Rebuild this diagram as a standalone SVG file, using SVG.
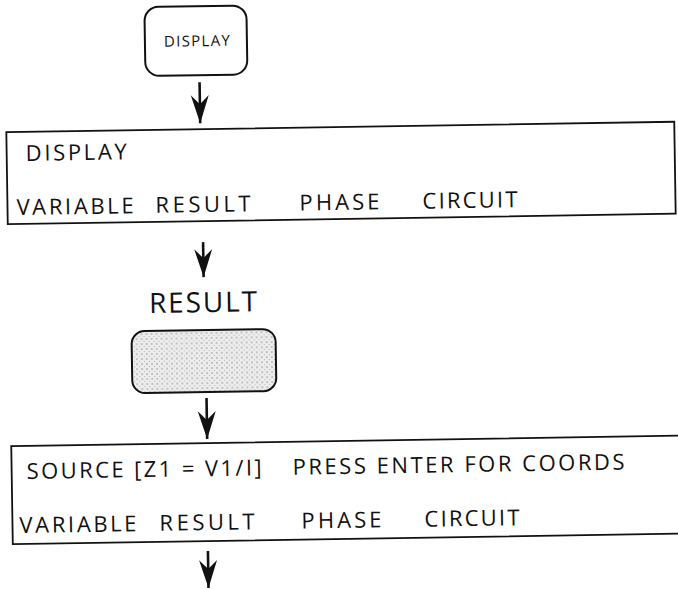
<svg xmlns="http://www.w3.org/2000/svg" width="678" height="589" viewBox="0 0 678 589">
<defs>
<marker id="ah" viewBox="0 -11 30 22" refX="28" refY="0" markerWidth="30" markerHeight="22" markerUnits="userSpaceOnUse" orient="auto">
<path d="M28,0 L0,-9 L9,0 L0,9 Z" fill="#111"/>
</marker>
<pattern id="stip" width="5" height="5" patternUnits="userSpaceOnUse">
<rect width="5" height="5" fill="#ededed"/>
<circle cx="1" cy="1" r="0.7" fill="#777"/>
<circle cx="3.5" cy="3.5" r="0.5" fill="#999"/>
</pattern>
<style>
.box{fill:#fff;stroke:#111;stroke-width:1.8}
.rnd{fill:#fff;stroke:#111;stroke-width:2}
.t{font-family:"Open Sans","Liberation Sans",sans-serif;fill:#111}
.conn line{stroke:#111;stroke-width:2.6;marker-end:url(#ah)}
</style>
</defs>
<rect width="678" height="589" fill="#fff"/>
<g transform="rotate(-0.9 339 300)">
<g id="key-display">
<rect class="rnd" x="149" y="4" width="102" height="69" rx="14"/>
<text class="t" x="201" y="44" font-size="15" text-anchor="middle" textLength="66" lengthAdjust="spacing">DISPLAY</text>
</g>
<g id="screen-display">
<rect class="box" x="9" y="127" width="668" height="92"/>
<text class="t" x="28" y="156" font-size="22" textLength="101" lengthAdjust="spacing">DISPLAY</text>
<text class="t" y="210" font-size="22"><tspan x="18" textLength="117" lengthAdjust="spacing">VARIABLE</tspan> <tspan x="157" textLength="95" lengthAdjust="spacing">RESULT</tspan> <tspan x="301" textLength="80" lengthAdjust="spacing">PHASE</tspan> <tspan x="424" textLength="95" lengthAdjust="spacing">CIRCUIT</tspan></text>
</g>
<g id="key-result">
<text class="t" x="203" y="310" font-size="28" text-anchor="middle" textLength="108" lengthAdjust="spacing">RESULT</text>
<rect x="131" y="328" width="144" height="62" rx="13" fill="url(#stip)" stroke="#111" stroke-width="2"/>
</g>
<g id="screen-result">
<rect class="box" x="9" y="441" width="690" height="98"/>
<text class="t" y="474" font-size="22"><tspan x="24" textLength="235" lengthAdjust="spacing">SOURCE [Z1 = V1/I]</tspan> <tspan x="290" textLength="332" lengthAdjust="spacing">PRESS ENTER FOR COORDS</tspan></text>
<text class="t" y="528" font-size="22"><tspan x="16" textLength="117" lengthAdjust="spacing">VARIABLE</tspan> <tspan x="156" textLength="95" lengthAdjust="spacing">RESULT</tspan> <tspan x="298" textLength="80" lengthAdjust="spacing">PHASE</tspan> <tspan x="421" textLength="95" lengthAdjust="spacing">CIRCUIT</tspan></text>
</g>
<g class="conn" id="connectors">
<line x1="203" y1="80" x2="203" y2="121"/>
<line x1="204" y1="240" x2="204" y2="275"/>
<line x1="205" y1="396" x2="205" y2="437"/>
<line x1="204" y1="549" x2="204" y2="586"/>
</g>
</g>
</svg>
